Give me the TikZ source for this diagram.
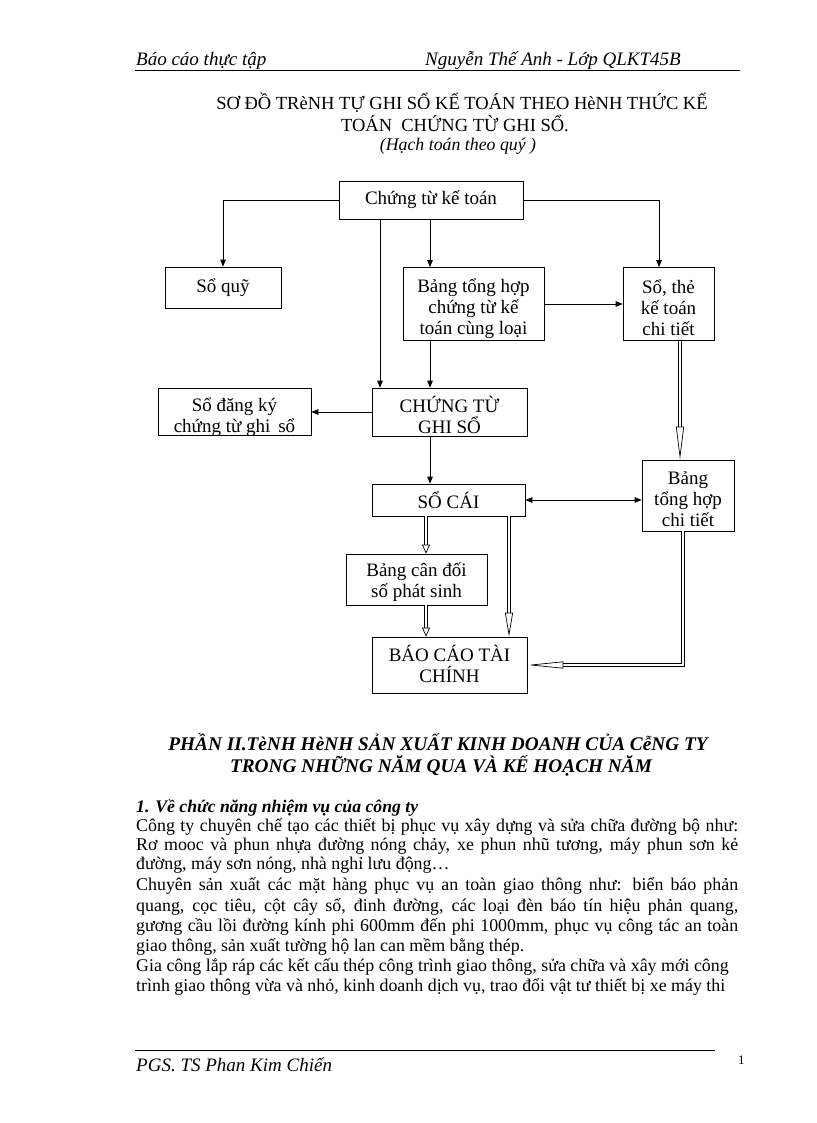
\documentclass[tikz,border=0pt]{standalone}
\usepackage{fontspec}
\setmainfont{Liberation Serif}
\usetikzlibrary{arrows.meta,calc}
\newcommand\stk[2]{\raisebox{#1}[\height][\depth]{\vbox{\baselineskip=21pt\lineskiplimit=-10pt\halign{\hfil##\hfil\cr#2\crcr}}}}
\begin{document}
\begin{tikzpicture}[x=1pt,y=-1pt,
  box/.style={draw, line width=0.7pt, inner sep=0pt, font=\fontsize{19}{21}\selectfont},
  arr/.style={line width=0.7pt, -{Triangle[length=7pt,width=5.5pt]}},
  arrb/.style={line width=0.7pt, {Triangle[length=7pt,width=5.5pt]}-{Triangle[length=7pt,width=5.5pt]}},
  dbl/.style={draw, double=white, double distance=2.4pt, line width=0.6pt},
  htip/.style n args={2}{draw=white, line width=0.5pt, -{Triangle[open, length=#1, width=#2, color=black, line width=0.7pt]}},
  body/.style={anchor=base west, inner sep=0pt, font=\fontsize{17.9}{20}\selectfont},
  ttl/.style={anchor=base, inner sep=0pt, font=\fontsize{18.5}{20}\selectfont},
  hd/.style={anchor=base west, inner sep=0pt, font=\fontsize{19}{22}\selectfont\itshape},
  sec/.style={anchor=base, inner sep=0pt, font=\fontsize{19.3}{22}\selectfont\bfseries\itshape}]
\useasboundingbox[fill=white] (0,0) rectangle (816,1123);

% header
\node[hd] (h1) at (136,66) {Báo cáo thực tập};
\node[hd] (h2) at (425,66) {Nguyễn Thế Anh - Lớp QLKT45B};
\draw[line width=1pt] (135,71) -- (740,71);

% title
\node[ttl] (t1) at (462,110) {SƠ ĐỒ TRèNH TỰ GHI SỔ KẾ TOÁN THEO HèNH THỨC KẾ};
\node[ttl] (t2) at (455,132) {TOÁN \ CHỨNG TỪ GHI SỔ.};
\node[ttl, font=\fontsize{17.8}{20}\selectfont\itshape] (t3) at (458,151) {(Hạch toán theo quý )};

% boxes
\node[box, minimum width=184pt, minimum height=38pt] (ctkt) at (431,200) {Chứng từ kế toán};
\node[box, minimum width=116pt, minimum height=41pt] (soquy) at (223,287.5) {Sổ quỹ};
\node[box, minimum width=141pt, minimum height=73pt] (bth) at (473.5,304) {\stk{-5pt}{Bảng tổng hợp\cr chứng từ kế\cr toán cùng loại}};
\node[box, minimum width=91pt, minimum height=73pt] (sothe) at (668.5,304) {\stk{-4pt}{Sổ, thẻ\cr kế toán\cr chi tiết}};
\node[box, minimum width=153pt, minimum height=47pt] (sodk) at (234.5,411.5) {\stk{-6pt}{Sổ đăng ký\cr chứng từ ghi \,sổ}};
\node[box, minimum width=155pt, minimum height=48pt] (ctgs) at (449.5,412) {\stk{-3pt}{CHỨNG TỪ\cr GHI SỔ}};
\node[box, minimum width=153pt, minimum height=32pt] (socai) at (448.5,500) {SỔ CÁI};
\node[box, minimum width=92pt, minimum height=71pt] (bthct) at (688,495.5) {\stk{-4pt}{Bảng\cr tổng hợp\cr chi tiết}};
\node[box, minimum width=141pt, minimum height=51pt] (bcd) at (416.5,579.5) {\stk{-3pt}{Bảng cân đối\cr số phát sinh}};
\node[box, minimum width=155pt, minimum height=56pt] (bctc) at (449.5,665) {\stk{1pt}{BÁO CÁO TÀI\cr CHÍNH}};

% columns
\coordinate (xa) at (380,0);
\coordinate (xb) at (430,0);
\coordinate (xc) at (659,0);
\coordinate (xd) at (680,0);
\coordinate (xe) at (426,0);
\coordinate (xf) at (509,0);
\coordinate (xg) at (683,0);

% thin arrows
\draw[arr] (ctkt.west) -| (soquy.north);
\draw[arr] (ctkt.east) -| (xc |- sothe.north);
\draw[arr] (xa |- ctkt.south) -- (xa |- ctgs.north);
\draw[arr] (xb |- ctkt.south) -- (xb |- bth.north);
\draw[arr] (xb |- bth.south) -- (xb |- ctgs.north);
\draw[arr] (bth.east) -- (sothe.west);
\draw[arr] (ctgs.west) -- (ctgs.west -| sodk.east);
\draw[arr] (xb |- ctgs.south) -- (xb |- socai.north);
\draw[arrb] (socai.east) -- (socai.east -| bthct.west);

% double arrows
\draw[dbl] (xd |- sothe.south) -- ($(xd |- bthct.north)+(0,-33)$);
\draw[htip={33pt}{8pt}] ($(xd |- bthct.north)+(0,-34)$) -- (xd |- bthct.north);
\draw[dbl] (xe |- socai.south) -- ($(xe |- bcd.north)+(0,-9)$);
\draw[htip={9pt}{8pt}] ($(xe |- bcd.north)+(0,-10)$) -- (xe |- bcd.north);
\draw[dbl] (xf |- socai.south) -- ($(xf |- bctc.north)+(0,-24)$);
\draw[htip={24pt}{8pt}] ($(xf |- bctc.north)+(0,-25)$) -- (xf |- bctc.north);
\draw[dbl] (xe |- bcd.south) -- ($(xe |- bctc.north)+(0,-9)$);
\draw[htip={9pt}{8pt}] ($(xe |- bctc.north)+(0,-10)$) -- (xe |- bctc.north);
\draw[dbl] (xg |- bthct.south) |- ($(bctc.east)+(36,0)$);
\draw[htip={36pt}{7pt}] ($(bctc.east)+(37,0)$) -- (bctc.east);

% section heading
\node[sec] (s1) at (438,750) {PHẦN II.TèNH HèNH SẢN XUẤT KINH DOANH CỦA CễNG TY};
\node[sec] (s2) at (441,772) {TRONG NHỮNG NĂM QUA VÀ KẾ HOẠCH NĂM};
\node[body, font=\fontsize{17.7}{20}\selectfont\bfseries\itshape] (s3) at (136,812) {1. Về chức năng nhiệm vụ của công ty};

% body text
\node[body] (b1) at (136,831) {\makebox[602pt][s]{Công ty chuyên chế tạo các thiết bị phục vụ xây dựng và sửa chữa đường bộ như:}};
\node[body] (b2) at (136,850) {\makebox[602pt][s]{Rơ mooc và phun nhựa đường nóng chảy, xe phun nhũ tương, máy phun sơn kẻ}};
\node[body] (b3) at (136,869) {đường, máy sơn nóng, nhà nghỉ lưu động…};
\node[body] (b4) at (136,890) {\makebox[602pt][s]{Chuyên sản xuất các mặt hàng phục vụ an toàn giao thông như: biển báo phản}};
\node[body] (b5) at (136,911) {\makebox[602pt][s]{quang, cọc tiêu, cột cây số, đinh đường, các loại đèn báo tín hiệu phản quang,}};
\node[body] (b6) at (136,931) {\makebox[602pt][s]{gương cầu lồi đường kính phi 600mm đến phi 1000mm, phục vụ công tác an toàn}};
\node[body] (b7) at (136,951) {giao thông, sản xuất tường hộ lan can mềm bằng thép.};
\node[body] (b8) at (136,971) {Gia công lắp ráp các kết cấu thép công trình giao thông, sửa chữa và xây mới công};
\node[body] (b9) at (136,991) {trình giao thông vừa và nhỏ, kinh doanh dịch vụ, trao đổi vật tư thiết bị xe máy thi};

% footer
\draw[line width=0.8pt] (135,1050) -- (715,1050);
\node[hd] (f1) at (136,1071) {PGS. TS Phan Kim Chiến};
\node[anchor=base west, inner sep=0pt, font=\fontsize{13}{15}\selectfont] (f2) at (738,1064) {1};
\end{tikzpicture}
\end{document}
